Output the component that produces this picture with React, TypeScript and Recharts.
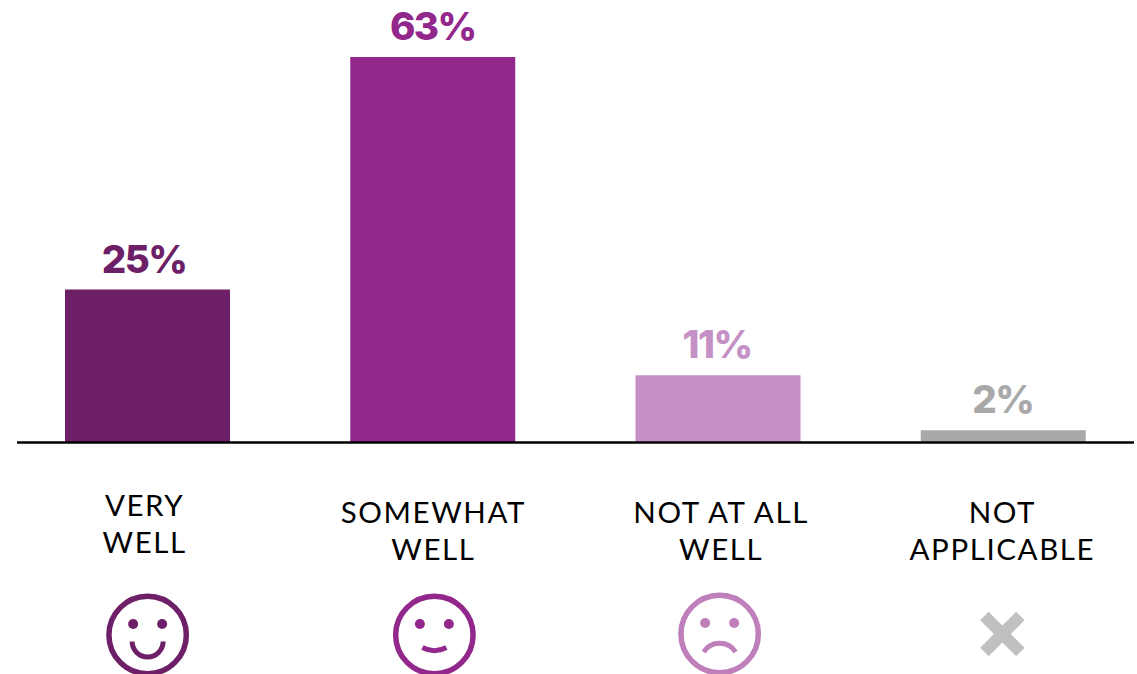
import { BarChart, Bar, XAxis, YAxis, Cell, LabelList } from 'recharts';

const categories = ['VERY WELL', 'SOMEWHAT WELL', 'NOT AT ALL WELL', 'NOT APPLICABLE'];
const shares = [25, 63, 11, 2];
const tickLines = [['VERY', 'WELL'], ['SOMEWHAT', 'WELL'], ['NOT AT ALL', 'WELL'], ['NOT', 'APPLICABLE']];

const barColors = ['#6d1f68', '#92278c', '#c590c5', '#a9a9a9'];
const iconColors = ['#6d1f68', '#92278c', '#bf7fba', '#c0c0c0'];
// small nudges, the labels are not quite centred under the bars
const labelNudge = [-3.5, 0, -1, -0.5];
const tickNudge = [-3, 0.5, 3, -1];
const tickRaise = [7, 0, 0, 0];

const data = categories.map((name, i) => ({ name, share: shares[i] }));

function Icon({ index, color }: { index: number; color: string }) {
  if (index === 3) {
    return (
      <g stroke={color} strokeWidth={12}>
        <line x1={-18} y1={-18} x2={18} y2={18} />
        <line x1={-18} y1={18} x2={18} y2={-18} />
      </g>
    );
  }
  const mouths = [
    'M -15.5 6.5 A 15.5 15.5 0 0 0 15.5 6.5',
    'M -12 12.5 Q 0 19 12 12.5',
    'M -16 18 A 19 19 0 0 1 16 18',
  ];
  return (
    <g>
      <circle r={38.7} fill="none" stroke={color} strokeWidth={5.5} />
      <circle cx={-14.5} cy={-11} r={5} fill={color} />
      <circle cx={14.5} cy={-11} r={5} fill={color} />
      <path d={mouths[index]} fill="none" stroke={color} strokeWidth={5} />
    </g>
  );
}

const iconShift = [0, 1.5, 1.5, -1];
const iconY = [192.5, 192.5, 191.5, 191.5];

function CategoryTick({ x, y, payload }: any) {
  const i = payload.index;
  const lines = tickLines[i];
  const cx = x + tickNudge[i];
  const first = y + 80.5 - tickRaise[i];
  return (
    <g>
      <text
        textAnchor="middle"
        fontFamily="Lato"
        fontSize={29.5}
        letterSpacing={1.6}
        fill="#000"
      >
        <tspan x={cx} y={first}>{lines[0]}</tspan>
        <tspan x={cx} y={first + 37}>{lines[1]}</tspan>
      </text>
      <g transform={`translate(${x + iconShift[i]},${y + iconY[i]})`}>
        <Icon index={i} color={iconColors[i]} />
      </g>
    </g>
  );
}

function ValueLabel({ x, y, width, value, index }: any) {
  return (
    <text
      x={x + width / 2 + labelNudge[index]}
      y={y - 17}
      textAnchor="middle"
      fontFamily="Inter"
      fontWeight={800}
      fontSize={38.5}
      letterSpacing={-1.6}
      fill={barColors[index]}
    >
      {value}%
    </text>
  );
}

export default function App() {
  return (
    <div style={{ position: 'absolute', left: 0, top: 0, width: 1137, height: 674, overflow: 'hidden' }}>
      <BarChart
        width={1137}
        height={674}
        data={data}
        barSize={165}
        margin={{ top: 57, right: 3, bottom: 0, left: 17 }}
      >
        <XAxis
          dataKey="name"
          interval={0}
          height={231.5}
          padding={{ left: -12, right: -12 }}
          tickLine={false}
          tickSize={0}
          tickMargin={0}
          axisLine={{ stroke: '#000', strokeWidth: 2.5 }}
          tick={CategoryTick}
        />
        <YAxis hide domain={[0, 63]} />
        <Bar dataKey="share" isAnimationActive={false}>
          {data.map((d, i) => (
            <Cell key={d.name} fill={barColors[i]} />
          ))}
          <LabelList dataKey="share" content={ValueLabel} />
        </Bar>
      </BarChart>
    </div>
  );
}
